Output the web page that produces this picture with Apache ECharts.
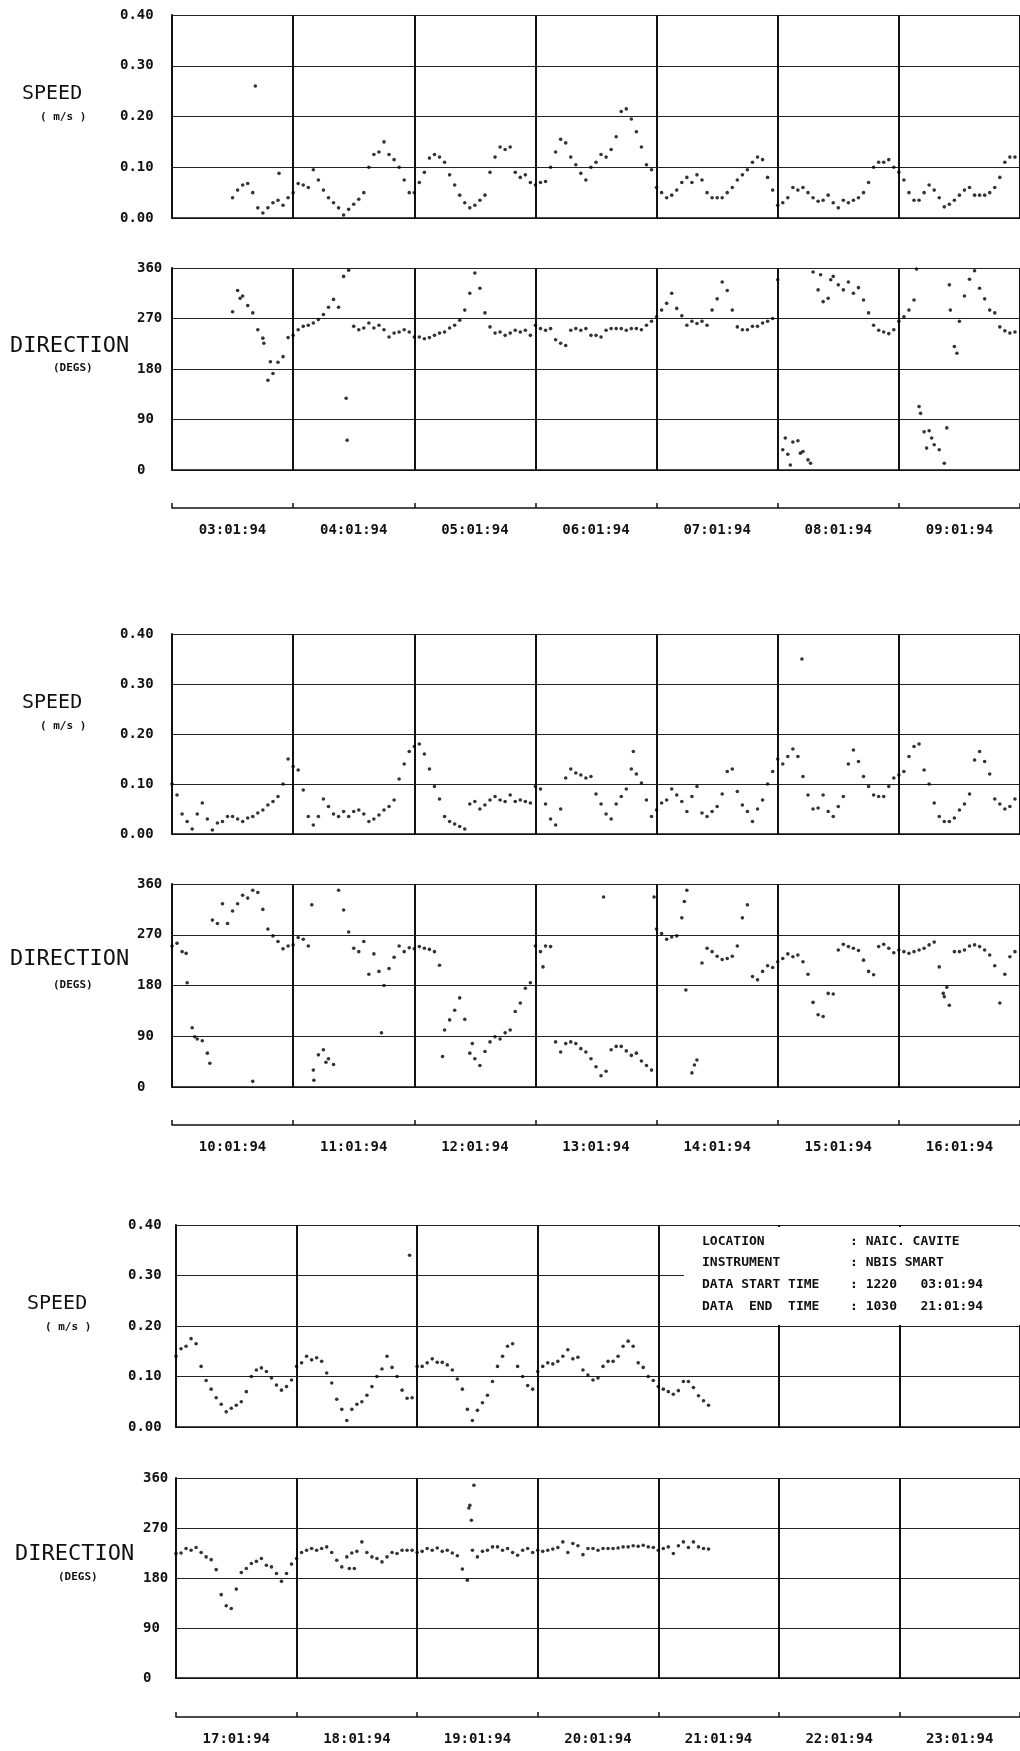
<!DOCTYPE html>
<html>
<head>
<meta charset="utf-8">
<script src="https://cdn.jsdelivr.net/npm/echarts@6/dist/echarts.min.js"></script>
<style>
html,body{margin:0;padding:0;background:#fff;}
#chart{width:1020px;height:1751px;}
</style>
</head>
<body>
<div id="chart"></div>
<script>
// date labels, one per day band
const dateLabels = ['03:01:94','04:01:94','05:01:94','06:01:94','07:01:94','08:01:94','09:01:94',
  '10:01:94','11:01:94','12:01:94','13:01:94','14:01:94','15:01:94','16:01:94',
  '17:01:94','18:01:94','19:01:94','20:01:94','21:01:94','22:01:94','23:01:94'];

// hourly current speed (m/s); day 03 starts at 12h
const speed03 = [0.04,0.055,0.065,0.068,0.05,0.02,0.01,0.02,0.03,0.035,0.025,0.04];
const speed04 = [0.05,0.068,0.065,0.06,0.095,0.075,0.055,0.04,0.03,0.02,0.006,0.017,0.027,0.037,0.05,0.1,0.125,0.13,0.15,0.125,0.115,0.1,0.075,0.05];
const speed05 = [0.05,0.07,0.09,0.118,0.125,0.12,0.11,0.085,0.065,0.045,0.03,0.02,0.025,0.035,0.045,0.09,0.12,0.14,0.135,0.14,0.09,0.08,0.085,0.07];
const speed06 = [0.065,0.07,0.072,0.1,0.13,0.155,0.148,0.12,0.105,0.088,0.075,0.1,0.11,0.125,0.12,0.135,0.16,0.21,0.215,0.195,0.17,0.14,0.105,0.095];
const speed07 = [0.06,0.05,0.04,0.045,0.055,0.07,0.08,0.07,0.085,0.075,0.05,0.04,0.04,0.04,0.05,0.06,0.075,0.085,0.095,0.11,0.12,0.115,0.08,0.055];
const speed08 = [0.025,0.03,0.04,0.06,0.055,0.06,0.05,0.04,0.033,0.035,0.045,0.03,0.02,0.035,0.03,0.035,0.04,0.05,0.07,0.1,0.11,0.11,0.115,0.1];
const speed09 = [0.09,0.075,0.05,0.035,0.035,0.05,0.065,0.055,0.04,0.022,0.027,0.035,0.045,0.055,0.06,0.045,0.045,0.045,0.05,0.06,0.08,0.11,0.12,0.12];
const speed10 = [0.1,0.078,0.04,0.025,0.01,0.04,0.062,0.03,0.008,0.022,0.025,0.035,0.035,0.03,0.025,0.032,0.035,0.042,0.048,0.058,0.065,0.075,0.1,0.15];
const speed11 = [0.135,0.128,0.088,0.035,0.018,0.035,0.07,0.055,0.04,0.035,0.045,0.035,0.045,0.048,0.04,0.025,0.03,0.038,0.048,0.055,0.068,0.11,0.14,0.165];
const speed12 = [0.175,0.18,0.16,0.13,0.095,0.07,0.035,0.025,0.02,0.015,0.01,0.06,0.065,0.05,0.058,0.068,0.075,0.068,0.065,0.078,0.065,0.068,0.065,0.062];
const speed13 = [0.095,0.09,0.06,0.03,0.018,0.05,0.112,0.13,0.122,0.118,0.112,0.115,0.08,0.06,0.04,0.03,0.06,0.075,0.09,0.13,0.12,0.102,0.068,0.035];
const speed14 = [0.048,0.062,0.068,0.09,0.078,0.065,0.045,0.075,0.095,0.042,0.035,0.045,0.055,0.08,0.125,0.13,0.085,0.058,0.045,0.025,0.05,0.068,0.1,0.125];
const speed15 = [0.15,0.14,0.155,0.17,0.155,0.115,0.078,0.05,0.052,0.078,0.045,0.035,0.055,0.075,0.14,0.168,0.145,0.115,0.095,0.078,0.075,0.075,0.095,0.112];
const speed16 = [0.118,0.125,0.155,0.175,0.18,0.128,0.1,0.062,0.035,0.025,0.025,0.032,0.048,0.06,0.08,0.148,0.165,0.145,0.12,0.07,0.06,0.05,0.055,0.07];
const speed17 = [0.14,0.155,0.16,0.175,0.165,0.12,0.092,0.075,0.058,0.045,0.03,0.037,0.043,0.05,0.07,0.1,0.113,0.117,0.11,0.097,0.083,0.073,0.08,0.093];
const speed18 = [0.12,0.127,0.14,0.133,0.137,0.13,0.107,0.087,0.055,0.035,0.013,0.035,0.045,0.05,0.063,0.08,0.1,0.115,0.14,0.118,0.1,0.073,0.057,0.058];
const speed19 = [0.12,0.12,0.127,0.135,0.128,0.128,0.123,0.113,0.095,0.075,0.035,0.013,0.033,0.048,0.063,0.09,0.12,0.14,0.16,0.165,0.12,0.1,0.082,0.075];
const speed20 = [0.11,0.12,0.127,0.125,0.13,0.14,0.153,0.135,0.138,0.113,0.103,0.093,0.097,0.12,0.13,0.13,0.14,0.16,0.17,0.16,0.127,0.118,0.1,0.092];
const speed21 = [0.08,0.075,0.07,0.065,0.072,0.09,0.09,0.078,0.062,0.052,0.043];

// hourly direction (degs)
const dir03 = [282,320,310,293,280,250,235,160,172,192,202,236];
const dir04 = [240,250,256,258,262,268,277,290,304,290,345,356,256,250,253,262,253,258,250,237,244,246,250,246];
const dir05 = [237,237,234,236,240,244,246,253,258,267,285,315,351,324,280,255,244,246,240,244,249,246,249,240];
const dir06 = [258,252,249,252,232,226,222,249,252,249,252,240,240,237,249,252,252,252,249,252,252,250,258,265];
const dir07 = [273,285,297,315,288,275,258,265,261,265,258,285,305,335,320,285,255,250,250,256,256,262,265,270];
const dir08 = [339,36,28,50,52,33,18,353,321,300,306,345,330,321,335,315,325,303,280,258,249,246,243,250];
const dir09 = [265,273,285,303,113,68,70,45,36,12,330,220,265,310,340,355,324,305,285,280,255,248,244,246];
const dir10 = [250,255,240,185,105,85,82,60,296,290,325,290,312,325,340,335,349,345,315,280,268,258,245,250];
const dir11 = [252,265,262,250,30,57,66,50,40,349,314,275,246,240,258,200,236,205,180,210,230,250,240,247];
const dir12 = [245,249,246,244,240,216,101,119,136,158,120,60,50,38,63,80,89,85,96,101,134,149,175,185];
const dir13 = [250,240,250,249,80,62,77,80,77,68,62,50,36,20,28,66,72,72,64,56,60,46,38,30];
const dir14 = [280,272,262,266,268,300,349,25,48,220,246,240,232,226,228,232,250,300,323,196,190,205,215,212];
const dir15 = [222,228,236,231,234,222,200,150,128,125,166,165,243,253,249,246,242,225,205,199,249,253,246,238];
const dir16 = [243,240,237,240,243,246,252,257,213,160,145,240,240,243,250,252,249,243,234,215,149,200,231,240];
const dir17 = [224,225,233,230,235,226,218,213,195,150,130,125,160,190,197,206,210,215,203,200,188,174,188,205];
const dir18 = [215,226,230,233,230,233,236,226,212,200,218,225,228,245,226,218,215,209,218,226,224,230,230,230];
const dir19 = [226,228,233,230,234,228,230,225,220,196,176,230,218,228,230,236,236,230,233,226,221,230,233,226];
const dir20 = [230,228,230,232,235,245,226,242,238,222,233,233,230,233,233,233,234,236,236,238,237,239,236,235];
const dir21 = [230,233,236,224,238,245,235,245,236,233,232];

// extra scattered readings: [day in panel, hour, value]
const speedStray1 = [[0,16.5,0.26],[0,21.2,0.088]];
const speedStray2 = [[3,19.4,0.165],[5,4.8,0.35]];
const speedStray3 = [[1,22.5,0.34]];
const dirStray1 = [[0,13.5,306],[0,18.2,226],[0,19.5,193],[1,10.5,128],[1,10.7,53],[5,1.5,57],[5,2.5,9],[5,4.5,30],
  [5,6.5,12],[5,8.5,348],[5,10.5,339],[6,3.5,358],[6,4.3,101],[6,5.5,39],[6,6.5,57],[6,9.5,75],[6,11.5,208],[6,10.2,285]];
const dirStray2 = [[0,2.8,237],[0,4.5,89],[0,7.5,42],[0,16,10],[1,3.7,323],[1,4.1,12],[1,6.5,44],[1,17.5,96],[2,5.6,54],
  [2,11.5,77],[3,1.5,213],[3,13.5,337],[3,23.5,337],[4,5.5,329],[4,5.8,172],[4,7.5,39],[6,8.8,166],[6,9.5,177]];
const dirStray3 = [[1,10.5,197],[1,11.5,197],[2,10.3,306],[2,10.5,311],[2,10.8,284],[2,11.3,347]];

const speedDays = [[speed03,speed04,speed05,speed06,speed07,speed08,speed09],
  [speed10,speed11,speed12,speed13,speed14,speed15,speed16],
  [speed17,speed18,speed19,speed20,speed21]];
const dirDays = [[dir03,dir04,dir05,dir06,dir07,dir08,dir09],
  [dir10,dir11,dir12,dir13,dir14,dir15,dir16],
  [dir17,dir18,dir19,dir20,dir21]];
const speedStrays = [speedStray1, speedStray2, speedStray3];
const dirStrays = [dirStray1, dirStray2, dirStray3];
const firstHour = [12, 0, 0]; // data start 1220 03:01:94

// page layout of the three panels
const blocks = [
  {left:172, width:849, sTop:15, sH:203, dTop:268, dH:202, axisY:508, labX:10, spY:95, unY:118, diY:347, deY:369},
  {left:172, width:849, sTop:634, sH:200, dTop:884, dH:203, axisY:1125, labX:10, spY:704, unY:727, diY:960, deY:986},
  {left:176, width:852, sTop:1225, sH:202, dTop:1478, dH:200, axisY:1717, labX:15, spY:1305, unY:1328, diY:1555, deY:1578}
];

const FONT = "'DejaVu Sans Mono', monospace";
const INK = '#111';

function toPoints(days, h0, strays) {
  const pts = [];
  days.forEach((vals, d) => {
    const start = d === 0 ? h0 : 0;
    vals.forEach((v, i) => pts.push([d + (start + i) / 24, v]));
  });
  strays.forEach(s => pts.push([s[0] + s[1] / 24, s[2]]));
  return pts;
}

let grid = [], xAxis = [], yAxis = [], series = [], graphic = [];

blocks.forEach((b, k) => {
  const gi = k * 3;
  grid.push({left:b.left, top:b.sTop, width:b.width, height:b.sH});
  grid.push({left:b.left, top:b.dTop, width:b.width, height:b.dH});
  grid.push({left:b.left, top:b.axisY - 1, width:b.width, height:1});

  for (let j = 0; j < 2; j++) {
    xAxis.push({
      gridIndex: gi + j, type:'value', min:0, max:7, interval:1,
      axisLabel:{show:false}, axisTick:{show:false},
      axisLine:{show:true, lineStyle:{color:INK, width:1.5}},
      splitLine:{show:true, lineStyle:{color:INK, width:2}}
    });
  }
  xAxis.push({
    gridIndex: gi + 2, type:'category', boundaryGap:true,
    data: dateLabels.slice(k * 7, k * 7 + 7),
    axisLine:{show:true, lineStyle:{color:INK, width:1.5}},
    axisTick:{show:true, inside:true, length:5, interval:0, lineStyle:{color:INK, width:1.5}},
    axisLabel:{interval:0, margin:15, fontFamily:FONT, fontSize:14, fontWeight:'bold', color:INK}
  });

  yAxis.push({
    gridIndex: gi, type:'value', min:0, max:0.4, interval:0.1,
    axisLine:{show:true, lineStyle:{color:INK, width:2}}, axisTick:{show:false},
    axisLabel:{formatter: v => v.toFixed(2), align:'left', margin: b.left - (k === 2 ? 128 : 120),
      fontFamily:FONT, fontSize:14, fontWeight:'bold', color:INK},
    splitLine:{show:true, lineStyle:{color:'#222', width:1.2}}
  });
  yAxis.push({
    gridIndex: gi + 1, type:'value', min:0, max:360, interval:90,
    axisLine:{show:true, lineStyle:{color:INK, width:2}}, axisTick:{show:false},
    axisLabel:{align:'left', margin: b.left - (k === 2 ? 143 : 137),
      fontFamily:FONT, fontSize:14, fontWeight:'bold', color:INK},
    splitLine:{show:true, lineStyle:{color:'#222', width:1.2}}
  });
  yAxis.push({gridIndex: gi + 2, type:'value', show:false, min:0, max:1});

  series.push({
    type:'scatter', xAxisIndex:gi, yAxisIndex:gi, symbol:'circle', symbolSize:3.6,
    itemStyle:{color:'#000'}, silent:true,
    data: toPoints(speedDays[k], firstHour[k], speedStrays[k])
  });
  series.push({
    type:'scatter', xAxisIndex:gi + 1, yAxisIndex:gi + 1, symbol:'circle', symbolSize:3.6,
    itemStyle:{color:'#000'}, silent:true,
    data: toPoints(dirDays[k], firstHour[k], dirStrays[k])
  });

  graphic.push({type:'text', left:b.labX + 12, top:b.spY - 11,
    style:{text:'SPEED', font:"20px " + FONT, fill:INK}});
  graphic.push({type:'text', left:b.labX + 30, top:b.unY - 6,
    style:{text:'( m/s )', font:"bold 11px " + FONT, fill:INK}});
  graphic.push({type:'text', left:b.labX, top:b.diY - 12,
    style:{text:'DIRECTION', font:"22px " + FONT, fill:INK}});
  graphic.push({type:'text', left:b.labX + 43, top:b.deY - 6,
    style:{text:'(DEGS)', font:"bold 11px " + FONT, fill:INK}});
});

// info block over the empty days of the last panel
graphic.push({type:'rect', z:100, shape:{x:684, y:1227, width:340, height:98}, style:{fill:'#fff'}});
const infoRows = [
  ['LOCATION', ': NAIC. CAVITE'],
  ['INSTRUMENT', ': NBIS SMART'],
  ['DATA START TIME', ': 1220   03:01:94'],
  ['DATA  END  TIME', ': 1030   21:01:94']
];
const infoY = [1242, 1263, 1285, 1307];
infoRows.forEach((r, i) => {
  graphic.push({type:'text', z:101, left:702, top:infoY[i] - 7,
    style:{text:r[0], font:"bold 13px " + FONT, fill:INK}});
  graphic.push({type:'text', z:101, left:850, top:infoY[i] - 7,
    style:{text:r[1], font:"bold 13px " + FONT, fill:INK}});
});

const chart = echarts.init(document.getElementById('chart'));
chart.setOption({
  animation:false,
  backgroundColor:'#fff',
  grid, xAxis, yAxis, series, graphic
});
</script>
</body>
</html>
